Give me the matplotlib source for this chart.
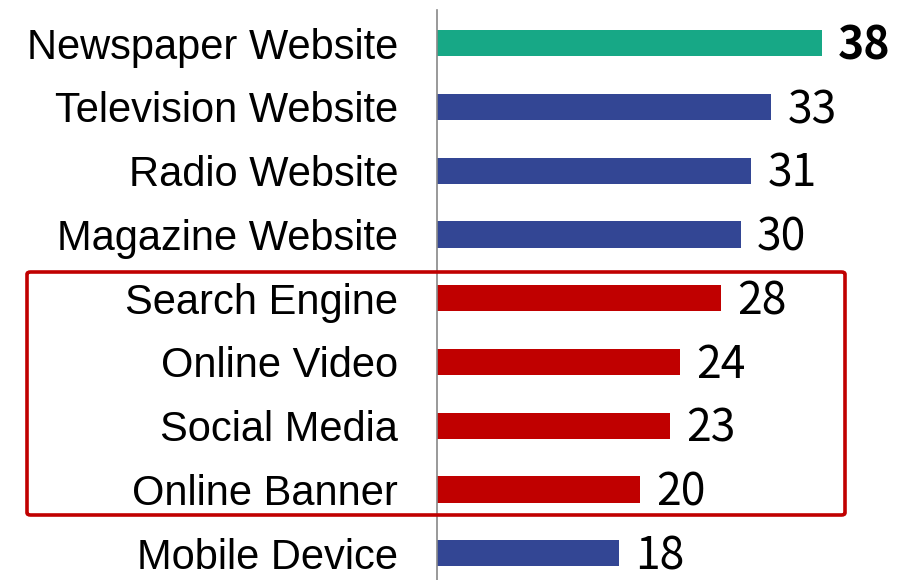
import matplotlib.pyplot as plt
from matplotlib.patches import FancyBboxPatch

categories = [
    "Newspaper Website", "Television Website", "Radio Website",
    "Magazine Website", "Search Engine", "Online Video",
    "Social Media", "Online Banner", "Mobile Device"
]
values = [38, 33, 31, 30, 28, 24, 23, 20, 18]
groups = ["top", "other", "other", "other", "box", "box", "box", "box", "other"]

colors = {"top": "#17A886", "other": "#334694", "box": "#C00000"}

fig = plt.figure(figsize=(9, 5.8), dpi=100)
ax = fig.add_axes([437 / 900, 0, 463 / 900, 570 / 580])

pos = range(len(categories))
ax.barh(pos, values, height=0.41, color=[colors[g] for g in groups])
ax.set_xlim(0, 45.7)
ax.set_ylim(8.42, -0.52)

for i, v in enumerate(values):
    ax.text(v + 1.6, i + 0.05, str(v), va="center", ha="left", fontsize=32,
            family=["Noto Sans CJK KR", "DejaVu Sans"],
            fontweight="bold" if i == 0 else "light", color="black")

ax.set_yticks(list(pos))
ax.set_yticklabels(categories, fontsize=30, family="Liberation Sans")
ax.tick_params(axis="y", length=0, pad=28)
ax.set_xticks([])
for s in ["top", "right", "bottom"]:
    ax.spines[s].set_visible(False)
ax.spines["left"].set_color("#888888")
ax.spines["left"].set_linewidth(1.2)

# red box around the online ad categories
box = FancyBboxPatch((27 / 900, 1 - 515 / 580), (845 - 27) / 900, (515 - 272) / 580,
                     boxstyle="round,pad=0,rounding_size=0.004",
                     transform=fig.transFigure, fill=False,
                     edgecolor="#C00000", linewidth=2.6)
fig.patches.append(box)

fig.savefig("out.png", dpi=100)
